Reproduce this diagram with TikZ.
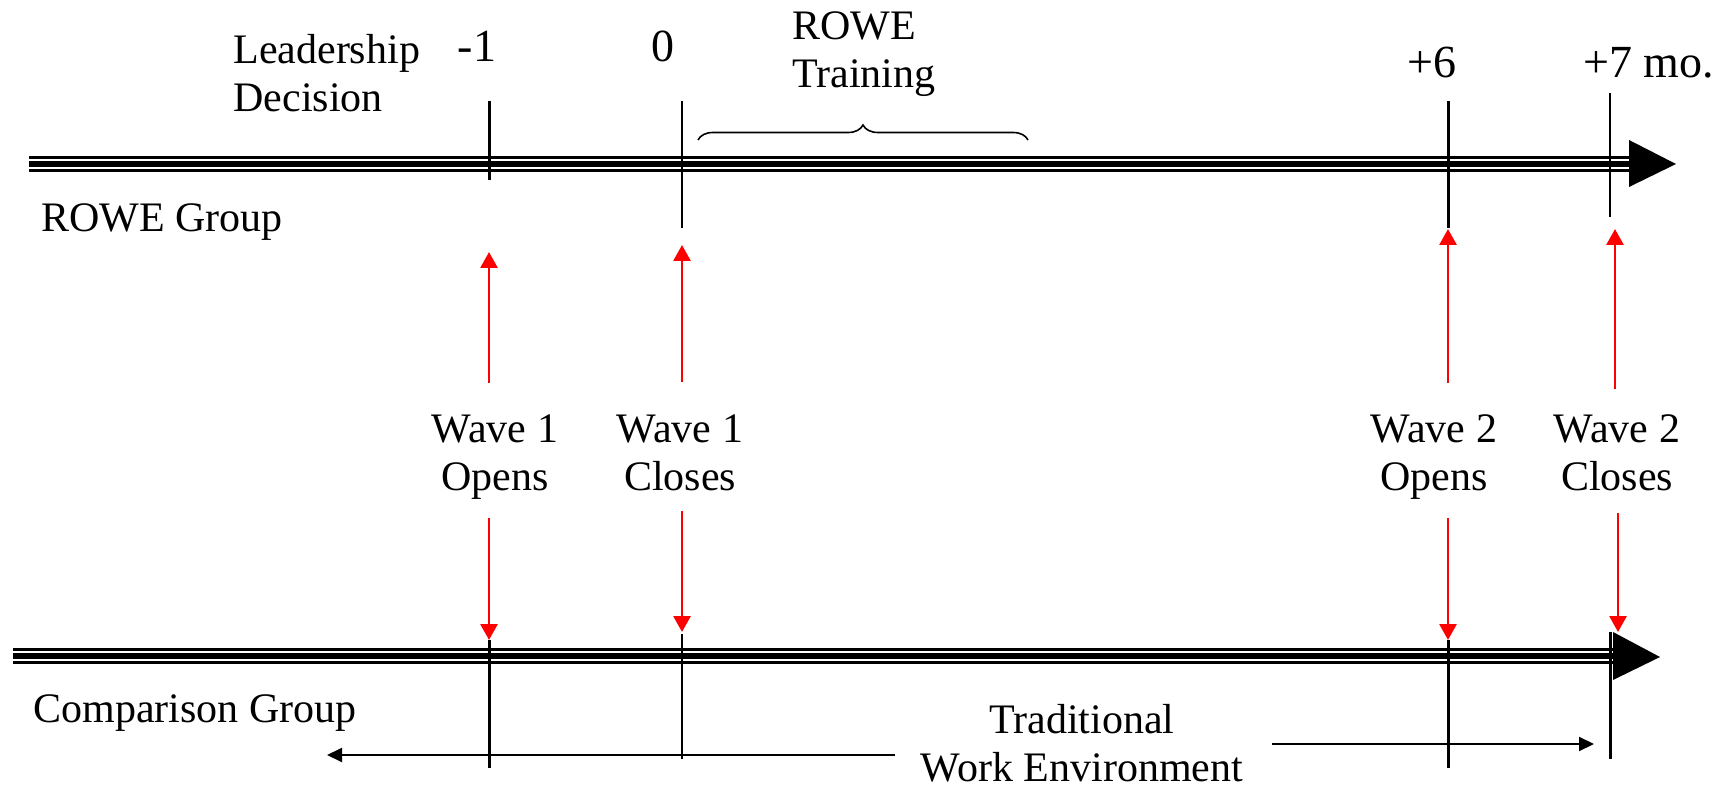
\documentclass[tikz,border=0pt]{standalone}
\usepackage{fontspec}
\setmainfont{Liberation Serif}
\usetikzlibrary{arrows.meta,decorations.pathreplacing}
\begin{document}
\begin{tikzpicture}[x=0.5pt,y=-0.5pt,
  txt/.style={inner sep=0pt, font=\fontsize{21}{24}\selectfont},
  num/.style={inner sep=0pt, font=\fontsize{23}{27}\selectfont},
  tickA/.style={line width=1.5pt},
  tickB/.style={line width=1pt},
  thinaxis/.style={line width=1.4pt},
  midaxis/.style={line width=3.1pt},
  redarr/.style={draw=red, line width=1.4pt, -{Triangle[length=8pt,width=8.5pt]}},
  blkarr/.style={line width=1pt, -{Triangle[length=7.5pt,width=7pt]}},
  bracestyle/.style={line width=0.8pt, decorate, decoration={brace, amplitude=7.5pt}}
  ]
\useasboundingbox (0,0) rectangle (1729,786);

% ---- top axis (ROWE group)
\draw[thinaxis] (29,157.3) -- (1629,157.3);
\draw[midaxis] (29,164.3) -- (1629,164.3);
\draw[thinaxis] (29,170.7) -- (1629,170.7);
\fill (1629,140) -- (1676,164) -- (1629,187) -- cycle;

% ---- bottom axis (comparison group)
\draw[thinaxis] (13,649.3) -- (1613,649.3);
\draw[midaxis] (13,656) -- (1613,656);
\draw[thinaxis] (13,662.7) -- (1613,662.7);
\fill (1613,632) -- (1660,657) -- (1613,680) -- cycle;

% ---- ticks
\coordinate (tA1) at (489,101); \coordinate (tA2) at (489,180);
\coordinate (tB1) at (682,101); \coordinate (tB2) at (682,228);
\coordinate (tC1) at (1448,101); \coordinate (tC2) at (1448,228);
\coordinate (tD1) at (1610,93); \coordinate (tD2) at (1610,217);
\draw[tickA] (tA1) -- (tA2);
\draw[tickB] (tB1) -- (tB2);
\draw[tickA] (tC1) -- (tC2);
\draw[tickB] (tD1) -- (tD2);

\coordinate (bA1) at (489,640); \coordinate (bA2) at (489,768);
\coordinate (bB1) at (682,634); \coordinate (bB2) at (682,759);
\coordinate (bC1) at (1448,640); \coordinate (bC2) at (1448,768);
\coordinate (bD1) at (1610,632); \coordinate (bD2) at (1610,759);
\draw[tickA] (bA1) -- (bA2);
\draw[tickB] (bB1) -- (bB2);
\draw[tickA] (bC1) -- (bC2);
\draw[tickA] (bD1) -- (bD2);

% ---- brace
\coordinate (brL) at (698,140); \coordinate (brR) at (1028,140);
\draw[bracestyle] (brL) -- (brR);

% ---- top labels
\node[txt, anchor=base west, align=left] (lead) at (233,112) {Leadership\\Decision};
\node[num, anchor=base] (m1) at (477,62) {-1};
\node[num, anchor=base] (z0) at (663,62) {0};
\node[txt, anchor=base west, align=left] (train) at (792,88) {ROWE\\Training};
\node[num, anchor=base] (p6) at (1432,78) {+6};
\node[num, anchor=base west] (p7) at (1583,78) {+7 mo.};
\node[txt, anchor=base west] (rg) at (41,232) {ROWE Group};

% ---- wave labels
\node[txt, anchor=base, align=center] (w1o) at (495,490) {Wave 1\\Opens};
\node[txt, anchor=base, align=center] (w1c) at (680,490) {Wave 1\\Closes};
\node[txt, anchor=base, align=center] (w2o) at (1434,490) {Wave 2\\Opens};
\node[txt, anchor=base, align=center] (w2c) at (1617,490) {Wave 2\\Closes};

% ---- red arrows
\coordinate (uA0) at (489,383); \coordinate (uA1) at (489,252);
\coordinate (uB0) at (682,382); \coordinate (uB1) at (682,245);
\coordinate (uC0) at (1448,383); \coordinate (uC1) at (1448,229);
\coordinate (uD0) at (1615,389); \coordinate (uD1) at (1615,229);
\draw[redarr] (uA0) -- (uA1);
\draw[redarr] (uB0) -- (uB1);
\draw[redarr] (uC0) -- (uC1);
\draw[redarr] (uD0) -- (uD1);

\coordinate (dA0) at (489,518); \coordinate (dA1) at (489,640);
\coordinate (dB0) at (682,511); \coordinate (dB1) at (682,632);
\coordinate (dC0) at (1448,518); \coordinate (dC1) at (1448,640);
\coordinate (dD0) at (1618,513); \coordinate (dD1) at (1618,632);
\draw[redarr] (dA0) -- (dA1);
\draw[redarr] (dB0) -- (dB1);
\draw[redarr] (dC0) -- (dC1);
\draw[redarr] (dD0) -- (dD1);

% ---- bottom labels
\node[txt, anchor=base west] (cg) at (33,722) {Comparison Group};
\node[txt, anchor=base, align=center] (trad) at (1082,781) {Traditional\\Work Environment};

% ---- traditional environment arrows
\coordinate (lA0) at (895,755); \coordinate (lA1) at (327,755);
\coordinate (rA0) at (1272,744); \coordinate (rA1) at (1594,744);
\draw[blkarr] (lA0) -- (lA1);
\draw[blkarr] (rA0) -- (rA1);
\end{tikzpicture}
\end{document}
